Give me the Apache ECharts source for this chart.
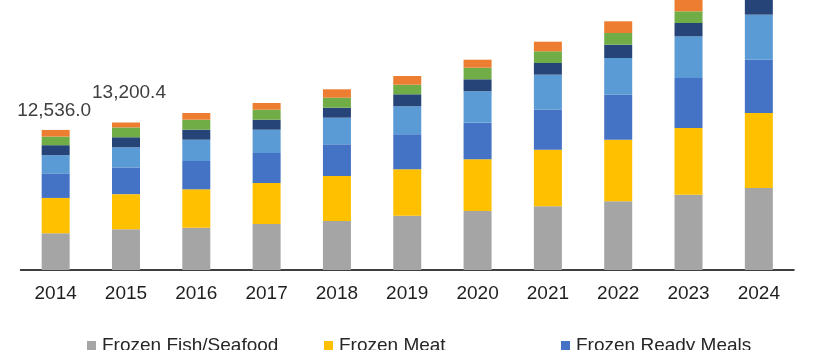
<!DOCTYPE html>
<html>
<head>
<meta charset="utf-8">
<script src="https://cdn.jsdelivr.net/npm/echarts@6/dist/echarts.min.js"></script>
<style>
html,body{margin:0;padding:0;background:#fff;}
#chart{width:820px;height:350px;}
</style>
</head>
<body>
<div id="chart"></div>
<script>
// ---- data ----
const years = ['2014','2015','2016','2017','2018','2019','2020','2021','2022','2023','2024'];
const fishSeafood = [3300, 3650, 3786, 4117, 4386, 4860, 5281, 5701, 6149, 6739, 7339];
const meat        = [3150, 3140, 3437, 3670, 4028, 4153, 4627, 5066, 5513, 5970, 6713];
const readyMeals  = [2200, 2390, 2533, 2685, 2837, 3133, 3276, 3580, 4028, 4475, 4770];
const segment4    = [1630, 1800, 1906, 2085, 2381, 2506, 2810, 3133, 3285, 3732, 4028];
const segment5    = [890,  900,  895,  895,  895,  1074, 1074, 1047, 1190, 1190, 1340];
const segment6    = [770,  880,  895,  895,  895,  859,  1038, 1047, 1047, 1047, 1200];
const segment7    = [596,  440.4,600,  600,  752,  779,  716,  859,  1047, 1120, 1200];
const totalLabels = [12536.0, 13200.4, null, null, null, null, null, null, null, null, null];

const seriesNames = ['Frozen Fish/Seafood','Frozen Meat','Frozen Ready Meals','Segment 4','Segment 5','Segment 6','Segment 7'];
const seriesData = [fishSeafood, meat, readyMeals, segment4, segment5, segment6, segment7];

// ---- styles ----
const colors = ['#A5A5A5','#FFC000','#4472C4','#5B9BD5','#264478','#70AD47','#ED7D31'];
const labelOffsets = [[-1.5,-5],[3,-15]];
const FONT = 'Liberation Sans, Arial, sans-serif';

const fmt = v => v.toLocaleString('en-US',{minimumFractionDigits:1, maximumFractionDigits:1});

const series = seriesData.map((arr, si) => {
  const isTop = si === seriesData.length - 1;
  return {
    name: seriesNames[si],
    type: 'bar',
    stack: 'total',
    barWidth: 28,
    clip: true,
    itemStyle: {color: colors[si]},
    emphasis: {disabled: true},
    data: arr.map((v, i) => {
      if (isTop && totalLabels[i] != null) {
        return {
          value: v,
          label: {
            show: true,
            position: 'top',
            offset: labelOffsets[i] || [0,0],
            formatter: () => fmt(totalLabels[i]),
            fontFamily: FONT,
            fontSize: 19,
            color: '#404040'
          }
        };
      }
      return v;
    })
  };
});

const legendPos = [82, 319, 556];
const legends = legendPos.map((l, i) => ({
  left: l,
  top: 331,
  orient: 'horizontal',
  itemWidth: 9,
  itemHeight: 9,
  icon: 'rect',
  selectedMode: false,
  data: [seriesNames[i]],
  textStyle: {fontFamily: FONT, fontSize: 19, color: '#262626', padding: [0,0,0,1]}
}));

const chart = echarts.init(document.getElementById('chart'), null, {renderer:'canvas'});
chart.setOption({
  animation: false,
  backgroundColor: '#ffffff',
  color: colors,
  grid: {left: 20.5, right: 26, top: 0, bottom: 80, containLabel: false},
  legend: legends,
  xAxis: {
    type: 'category',
    data: years,
    axisLine: {show: true, lineStyle: {color: '#000', width: 1.5}},
    axisTick: {show: false},
    axisLabel: {fontFamily: FONT, fontSize: 19, color: '#1f1f1f', margin: 14}
  },
  yAxis: {
    type: 'value',
    min: 0,
    max: 24165,
    show: false,
    splitLine: {show: false}
  },
  series: series
});
</script>
</body>
</html>
